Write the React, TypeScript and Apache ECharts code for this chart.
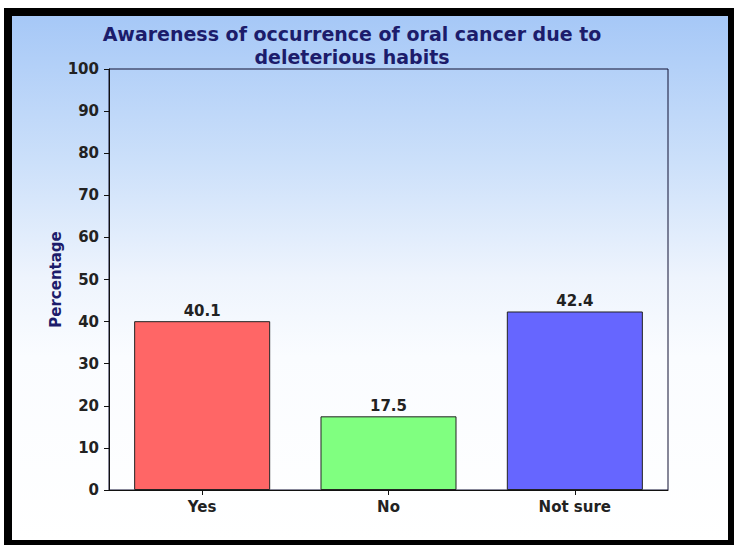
import React, { useEffect, useRef } from "react";
import * as echarts from "echarts";

// Survey responses, in percent
const categories = ["Yes", "No", "Not sure"];
const percentages = [40.1, 17.5, 42.4];
const barColors = ["#ff6666", "#80ff80", "#6666ff"];

const titleText = "Awareness of occurrence of oral cancer due to\ndeleterious habits";
const yAxisName = "Percentage";

const W = 734;
const H = 545;
const FONT = "'DejaVu Sans', Verdana, sans-serif";

export default function App() {
  const ref = useRef<HTMLDivElement>(null);

  useEffect(() => {
    if (!ref.current) return;
    const chart = echarts.init(ref.current, undefined, { renderer: "svg", width: W, height: H });
    chart.setOption({
      animation: false,
      textStyle: { fontFamily: FONT },
      graphic: [
        {
          type: "rect",
          z: -10,
          silent: true,
          shape: { x: 4, y: 8, width: W - 4, height: H - 8 },
          style: { fill: "#000000" },
        },
        {
          type: "rect",
          z: -9,
          silent: true,
          shape: { x: 12, y: 16, width: 716, height: 524 },
          style: {
            fill: new echarts.graphic.LinearGradient(0, 0, 0, 1, [
              { offset: 0, color: "#a6c8f7" },
              { offset: 0.28, color: "#cce0fa" },
              { offset: 0.5, color: "#eef4fd" },
              { offset: 0.65, color: "#fafcff" },
              { offset: 1, color: "#ffffff" },
            ]),
          },
        },
      ],
      title: {
        text: titleText,
        left: 347,
        top: 17,
        textAlign: "center",
        textStyle: {
          fontFamily: FONT,
          fontSize: 19,
          fontWeight: "bold",
          color: "#1c1c6b",
          lineHeight: 23,
        },
      },
      grid: {
        left: 109,
        right: 66,
        top: 69,
        bottom: 55,
        show: true,
        borderColor: "#111133",
        borderWidth: 1,
        backgroundColor: "transparent",
      },
      xAxis: {
        type: "category",
        data: categories,
        axisLine: { show: true, lineStyle: { color: "#111111", width: 1 } },
        axisTick: { show: true, alignWithLabel: true, length: 5, lineStyle: { color: "#111111" } },
        axisLabel: {
          margin: 9,
          fontFamily: FONT,
          fontSize: 15,
          fontWeight: "bold",
          color: "#222222",
        },
        splitLine: { show: false },
      },
      yAxis: {
        type: "value",
        min: 0,
        max: 100,
        interval: 10,
        name: yAxisName,
        nameLocation: "middle",
        nameGap: 46,
        nameRotate: 90,
        nameMoveOverlap: false,
        nameTextStyle: {
          fontFamily: FONT,
          fontSize: 15,
          fontWeight: "bold",
          color: "#1c1c6b",
        },
        axisLine: { show: true, lineStyle: { color: "#111111", width: 1 } },
        axisTick: { show: true, length: 5, lineStyle: { color: "#111111" } },
        axisLabel: {
          margin: 10,
          fontFamily: FONT,
          fontSize: 15,
          fontWeight: "bold",
          color: "#222222",
        },
        splitLine: { show: false },
      },
      series: [
        {
          type: "bar",
          data: percentages.map((v, i) => ({
            value: v,
            itemStyle: { color: barColors[i] },
          })),
          barWidth: "73%",
          itemStyle: { borderColor: "#222222", borderWidth: 1 },
          label: {
            show: true,
            position: "top",
            distance: 3,
            fontFamily: FONT,
            fontSize: 15,
            fontWeight: "bold",
            color: "#222222",
            formatter: (p: any) => String(p.value),
          },
        },
      ],
    });
    return () => chart.dispose();
  }, []);

  return (
    <div style={{ position: "absolute", left: 0, top: 0, width: W, height: H, background: "#ffffff" }}>
      <div ref={ref} style={{ width: W, height: H }} />
    </div>
  );
}
